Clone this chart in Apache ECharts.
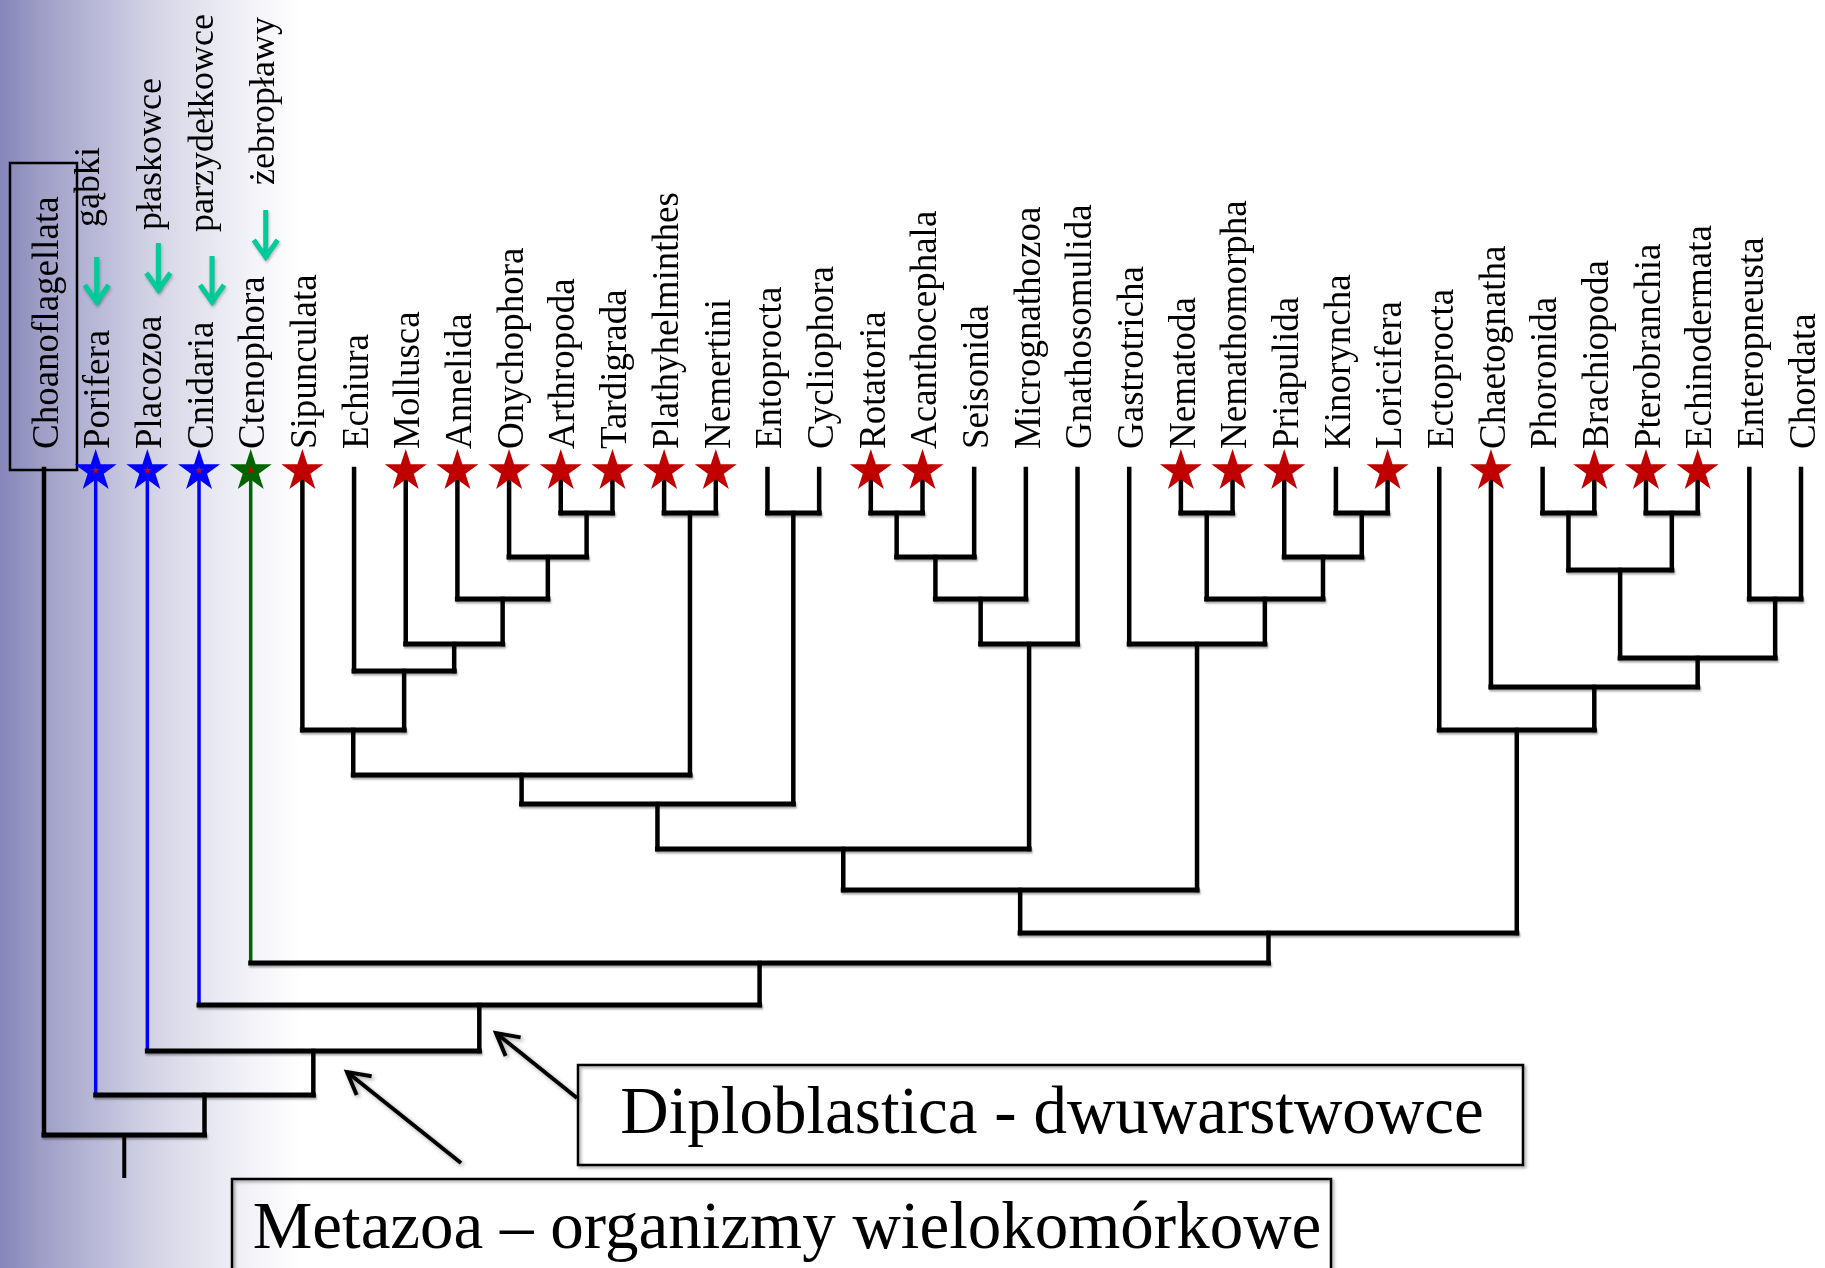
<!DOCTYPE html>
<html>
<head>
<meta charset="utf-8">
<script src="https://cdn.jsdelivr.net/npm/echarts@6/dist/echarts.min.js"></script>
<style>
html,body{margin:0;padding:0;background:#ffffff;}
#chart{width:1825px;height:1268px;}
</style>
</head>
<body>
<div id="chart"></div>
<script>
// ---------------- DATA ----------------
const leaves = ['Choanoflagellata','Porifera','Placozoa','Cnidaria','Ctenophora','Sipunculata','Echiura','Mollusca','Annelida','Onychophora','Arthropoda','Tardigrada','Plathyhelminthes','Nemertini','Entoprocta','Cycliophora','Rotatoria','Acanthocephala','Seisonida','Micrognathozoa','Gnathosomulida','Gastrotricha','Nematoda','Nemathomorpha','Priapulida','Kinoryncha','Loricifera','Ectoprocta','Chaetognatha','Phoronida','Brachiopoda','Pterobranchia','Echinodermata','Enteropneusta','Chordata'];

const leafGroup = ['outgroup','diploblast','diploblast','diploblast','ctenophore',
  'bilateria','bilateria','bilateria','bilateria','bilateria','bilateria','bilateria','bilateria','bilateria','bilateria','bilateria',
  'bilateria','bilateria','bilateria','bilateria','bilateria','bilateria','bilateria','bilateria','bilateria','bilateria','bilateria',
  'bilateria','bilateria','bilateria','bilateria','bilateria','bilateria','bilateria','bilateria'];

const starred = ['Porifera','Placozoa','Cnidaria','Ctenophora','Sipunculata','Mollusca','Annelida','Onychophora','Arthropoda','Tardigrada','Plathyhelminthes','Nemertini','Rotatoria','Acanthocephala','Nematoda','Nemathomorpha','Priapulida','Loricifera','Chaetognatha','Brachiopoda','Pterobranchia','Echinodermata'];

// clades: cN joins cladeLeft[N] and cladeRight[N] at depth cladeHeight[N]
const cladeLeft  = ['Arthropoda','Onychophora','Annelida','Mollusca','Echiura','Sipunculata','Plathyhelminthes','c5','Entoprocta','c7','Rotatoria','c10','c11','c12','c9','Nematoda','Kinoryncha','Priapulida','c15','Gastrotricha','c14','Phoronida','Pterobranchia','c21','Enteropneusta','c23','Chaetognatha','Ectoprocta','c20','Ctenophora','Cnidaria','Placozoa','Porifera','Choanoflagellata'];
const cladeRight = ['Tardigrada','c0','c1','c2','c3','c4','Nemertini','c6','Cycliophora','c8','Acanthocephala','Seisonida','Micrognathozoa','Gnathosomulida','c13','Nemathomorpha','Loricifera','c16','c17','c18','c19','Brachiopoda','Echinodermata','c22','Chordata','c24','c25','c26','c27','c28','c29','c30','c31','c32'];
const cladeHeight = [513,557,599,644,671,730,513,775,513,804,513,557,599,644,849,513,513,557,599,644,890,513,513,570,599,658,687,730,933,963,1005,1051,1095,1135];

const tipHeight = 469;
const rootBase = 1178;

const commonNames = ['gąbki','płaskowce','parzydełkowce','żebropławy'];
const commonNameOf = ['Porifera','Placozoa','Cnidaria','Ctenophora'];

const bottomNotes = ['Diploblastica - dwuwarstwowce','Metazoa – organizmy wielokomórkowe'];

// ---------------- HELPERS ----------------
const leafIndex = {};
leaves.forEach((n, i) => { leafIndex[n] = i; });
function isLeaf(ref) { return Object.prototype.hasOwnProperty.call(leafIndex, ref); }
function xOf(ref) {
  if (isLeaf(ref)) return leafIndex[ref];
  const k = +ref.slice(1);
  return (xOf(cladeLeft[k]) + xOf(cladeRight[k])) / 2;
}
function topOf(ref) { return isLeaf(ref) ? tipHeight : cladeHeight[+ref.slice(1)]; }

const groupColor = { outgroup: '#000000', diploblast: '#0000ff', ctenophore: '#006400', bilateria: '#000000' };
const starColor = { diploblast: '#0000ff', ctenophore: '#006400', bilateria: '#c00000' };
function colorOf(ref) { return isLeaf(ref) ? groupColor[leafGroup[leafIndex[ref]]] : '#000000'; }

const SERIF = '"Liberation Serif", "Times New Roman", serif';
const starPath = 'path://M50,0 L61.23,34.55 L97.55,34.55 L68.17,55.9 L79.39,90.45 L50,69.1 L20.61,90.45 L31.83,55.9 L2.45,34.55 L38.77,34.55 Z';

// layout for the common-name annotations (pixel offsets)
const noteLayout = [
  { dx: -6,  textY: 227, ax: 1,  ay: [257, 305] },
  { dx: 4,   textY: 230, ax: 11, ay: [243, 293] },
  { dx: 5,   textY: 232, ax: 13, ay: [256, 305] },
  { dx: 14,  textY: 185, ax: 15, ay: [210, 260] }
];

// ---------------- SERIES ----------------
const rootK = cladeHeight.length - 1;

const branchSeries = {
  type: 'custom',
  name: 'branches',
  coordinateSystem: 'cartesian2d',
  silent: true,
  z: 2,
  encode: { x: 0, y: 1 },
  data: cladeHeight.map((h, k) => [xOf('c' + k), h, k]),
  renderItem: function (params, api) {
    const k = api.value(2);
    const h = cladeHeight[k];
    const kids = [cladeLeft[k], cladeRight[k]];
    const els = [];
    const ends = [];
    kids.forEach(ref => {
      const x = xOf(ref);
      const t = api.coord([x, topOf(ref)]);
      const b = api.coord([x, h]);
      ends.push(b);
      const col = colorOf(ref);
      const colored = col !== '#000000';
      els.push({
        type: 'line',
        shape: { x1: t[0], y1: t[1], x2: b[0], y2: b[1] },
        style: { stroke: col, lineWidth: colored ? 3.5 : 4.5, lineCap: colored ? 'butt' : 'square' }
      });
    });
    els.push({
      type: 'line',
      shape: { x1: ends[0][0], y1: ends[0][1], x2: ends[1][0], y2: ends[1][1] },
      style: { stroke: '#000', lineWidth: 5, lineCap: 'square',
        shadowColor: 'rgba(0,0,0,0.35)', shadowBlur: 2, shadowOffsetY: 2, shadowOffsetX: 1 }
    });
    if (k === rootK) {
      const x = xOf('c' + k);
      const a = api.coord([x, h]);
      const b = api.coord([x, rootBase]);
      els.push({ type: 'line', shape: { x1: a[0], y1: a[1], x2: b[0], y2: b[1] },
        style: { stroke: '#000', lineWidth: 4 } });
    }
    return { type: 'group', children: els };
  }
};

const starSeries = {
  type: 'scatter',
  name: 'stars',
  silent: true,
  z: 5,
  symbol: starPath,
  symbolSize: [42, 40],
  data: starred.map(n => {
    const i = leafIndex[n];
    return { value: [i, tipHeight], itemStyle: { color: starColor[leafGroup[i]], opacity: 1 } };
  })
};

const starCenterSeries = {
  type: 'scatter',
  name: 'starCenters',
  silent: true,
  z: 6,
  symbol: starPath,
  symbolSize: [8, 7.6],
  symbolOffset: [0, 1],
  itemStyle: { color: '#d00000', opacity: 1 },
  data: starred.filter(n => leafGroup[leafIndex[n]] !== 'bilateria').map(n => [leafIndex[n], tipHeight])
};

const labelSeries = {
  type: 'custom',
  name: 'labels',
  coordinateSystem: 'cartesian2d',
  silent: true,
  z: 4,
  encode: { x: 0, y: 1 },
  data: leaves.map((n, i) => [i, tipHeight, i]),
  renderItem: function (params, api) {
    const i = api.value(2);
    const p = api.coord([i, tipHeight]);
    const els = [{
      type: 'text',
      x: p[0] + 4, y: 449,
      rotation: Math.PI / 2,
      style: { text: leaves[i], font: '37px ' + SERIF, fill: '#000', align: 'left', verticalAlign: 'middle' }
    }];
    if (leafGroup[i] === 'outgroup') {
      els.push({
        type: 'rect',
        shape: { x: p[0] - 34, y: 163, width: 67, height: 307 },
        style: { fill: 'none', stroke: '#000', lineWidth: 2.5 }
      });
    }
    return { type: 'group', children: els };
  }
};

const noteSeries = {
  type: 'custom',
  name: 'commonNames',
  coordinateSystem: 'cartesian2d',
  silent: true,
  z: 4,
  encode: { x: 0, y: 1 },
  data: commonNameOf.map((n, j) => [leafIndex[n], tipHeight, j]),
  renderItem: function (params, api) {
    const j = api.value(2);
    const L = noteLayout[j];
    const p = api.coord([leafIndex[commonNameOf[j]], tipHeight]);
    const ax = p[0] + L.ax;
    const teal = '#00cc99';
    const sh = { shadowColor: 'rgba(0,0,0,0.25)', shadowBlur: 3, shadowOffsetX: 1, shadowOffsetY: 2 };
    return {
      type: 'group',
      children: [
        { type: 'text', x: p[0] + L.dx, y: L.textY, rotation: Math.PI / 2,
          style: { text: commonNames[j], font: '36px ' + SERIF, fill: '#000', align: 'left', verticalAlign: 'middle' } },
        { type: 'line', shape: { x1: ax, y1: L.ay[0], x2: ax, y2: L.ay[1] - 3 },
          style: Object.assign({ stroke: teal, lineWidth: 5 }, sh) },
        { type: 'polyline', shape: { points: [[ax - 12, L.ay[1] - 20], [ax, L.ay[1] - 3], [ax + 12, L.ay[1] - 20]] },
          style: Object.assign({ stroke: teal, lineWidth: 5, fill: 'none', lineJoin: 'miter', lineCap: 'butt' }, sh) }
      ]
    };
  }
};

// ---------------- ANNOTATION GRAPHICS ----------------
function arrowEls(x1, y1, x2, y2) {
  const ang = Math.atan2(y2 - y1, x2 - x1);
  const len = 25, spread = 0.5;
  const h1 = [x2 - len * Math.cos(ang - spread), y2 - len * Math.sin(ang - spread)];
  const h2 = [x2 - len * Math.cos(ang + spread), y2 - len * Math.sin(ang + spread)];
  const st = { stroke: '#000', lineWidth: 4, fill: 'none', shadowColor: 'rgba(0,0,0,0.35)', shadowBlur: 4, shadowOffsetX: 2, shadowOffsetY: 2 };
  return [
    { type: 'line', shape: { x1: x1, y1: y1, x2: x2, y2: y2 }, style: st, z: 10 },
    { type: 'polyline', shape: { points: [h1, [x2, y2], h2] }, style: Object.assign({ lineJoin: 'miter' }, st), z: 10 }
  ];
}

const boxStyle = { fill: 'none', stroke: '#000', lineWidth: 2.5, shadowColor: 'rgba(0,0,0,0.35)', shadowBlur: 3, shadowOffsetX: 2, shadowOffsetY: 2 };

const graphics = [
  { type: 'rect', z: -10, silent: true, shape: { x: 0, y: 0, width: 1825, height: 1268 },
    style: { fill: new echarts.graphic.LinearGradient(0, 0, 300 / 1825, 0, [
      { offset: 0, color: '#8686b9' },
      { offset: 0.15, color: '#a0a0c8' },
      { offset: 0.33, color: '#baBad8' },
      { offset: 0.5, color: '#d2d2e5' },
      { offset: 0.67, color: '#e4e4ef' },
      { offset: 0.83, color: '#f2f2f8' },
      { offset: 1, color: '#ffffff' }
    ]) } },
  { type: 'rect', z: 10, silent: true, shape: { x: 578, y: 1065, width: 945, height: 100 }, style: boxStyle },
  { type: 'text', z: 10, silent: true, x: 1052, y: 1115,
    style: { text: bottomNotes[0], font: '67px ' + SERIF, fill: '#000', align: 'center', verticalAlign: 'middle' } },
  { type: 'rect', z: 10, silent: true, shape: { x: 232, y: 1179, width: 1099, height: 120 }, style: boxStyle },
  { type: 'text', z: 10, silent: true, x: 787, y: 1230,
    style: { text: bottomNotes[1], font: '67px ' + SERIF, fill: '#000', align: 'center', verticalAlign: 'middle' } }
].concat(arrowEls(577, 1098, 496, 1033)).concat(arrowEls(461, 1163, 347, 1072));

// ---------------- CHART ----------------
const chart = echarts.init(document.getElementById('chart'), null, { renderer: 'canvas', width: 1825, height: 1268 });
chart.setOption({
  animation: false,
  backgroundColor: '#ffffff',
  grid: { left: 44, right: 24, top: 0, bottom: 0, containLabel: false },
  xAxis: { type: 'value', min: 0, max: leaves.length - 1, show: false },
  yAxis: { type: 'value', min: 0, max: 1268, inverse: true, show: false },
  graphic: graphics,
  series: [branchSeries, starSeries, starCenterSeries, labelSeries, noteSeries]
});
</script>
</body>
</html>
